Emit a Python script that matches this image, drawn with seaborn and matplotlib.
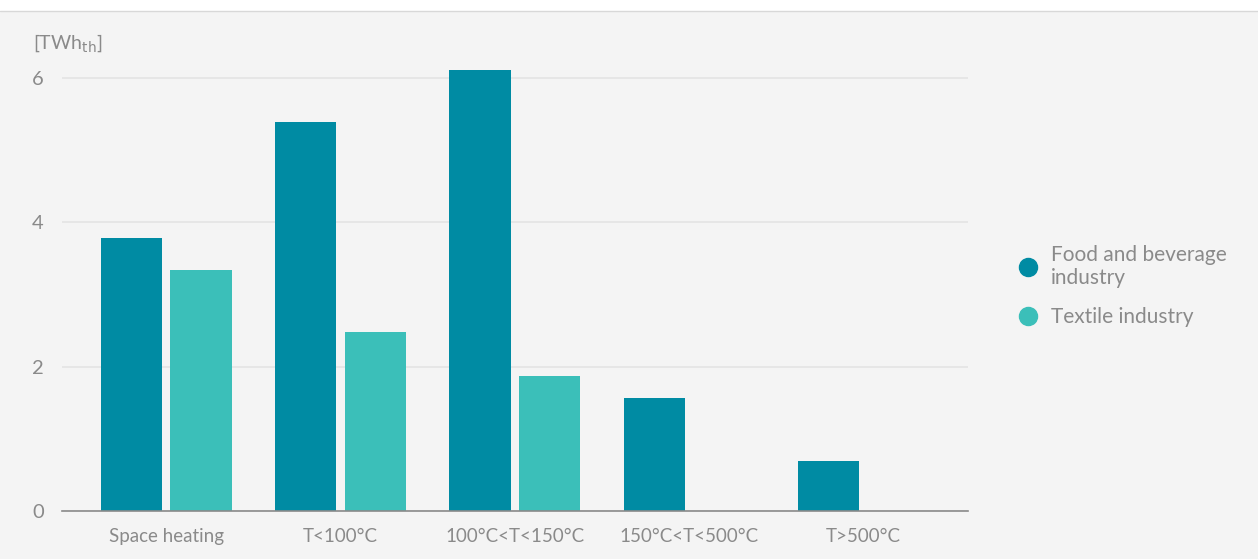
import matplotlib.pyplot as plt
import matplotlib.patches as mpatches
from matplotlib.lines import Line2D
import numpy as np
import pandas as pd
import seaborn as sns

# data
categorias = ['Space heating', 'T<100°C', '100°C<T<150°C', '150°C<T<500°C', 'T>500°C']
food = [3.78, 5.39, 6.10, 1.57, 0.69]
textile = [3.34, 2.48, 1.87, 0.0, 0.0]
series = ['Food and beverage\nindustry', 'Textile industry']
cores = ['#008ba3', '#3bbfb9']

df = pd.DataFrame({
    'cat': categorias * 2,
    'valor': food + textile,
    'serie': [series[0]] * 5 + [series[1]] * 5,
})

sns.set_theme(style='white')
plt.rcParams['font.family'] = ['Lato', 'DejaVu Sans']
cinza = '#8a8a8a'

fig = plt.figure(figsize=(12.58, 5.59), dpi=100, facecolor='#f4f4f4')
# faixa branca no topo
fig.patches.append(mpatches.Rectangle((0, 1 - 11 / 559), 1, 11 / 559, transform=fig.transFigure,
                                      facecolor='white', edgecolor='none', zorder=0))
fig.lines.append(Line2D([0, 1], [1 - 11 / 559] * 2, transform=fig.transFigure, color='#d8d8d8', lw=1))

ax = fig.add_axes([0.0493, 0.0859, 0.7202, 0.8139])
ax.set_facecolor('#f4f4f4')
sns.barplot(data=df, x='cat', y='valor', hue='serie', palette=cores, width=0.8, gap=0.12,
            saturation=1, linewidth=0, ax=ax, legend=False, zorder=3)

ax.set_xlim(-0.597, 4.60)
ax.set_ylim(0, 6.3)
ax.set_yticks([0, 2, 4, 6])
ax.yaxis.grid(True, color='#e4e4e4', lw=1.2, zorder=0)
ax.xaxis.grid(False)
for s in ['top', 'right', 'left']:
    ax.spines[s].set_visible(False)
ax.spines['bottom'].set_color('#8a8a8a')
ax.spines['bottom'].set_linewidth(1.2)
ax.spines['bottom'].set_zorder(4)
ax.tick_params(axis='both', length=0, labelcolor=cinza)
ax.tick_params(axis='y', pad=13, labelsize=14.5)
ax.tick_params(axis='x', pad=12, labelsize=13.5)
ax.set_xlabel('')
ax.set_ylabel('')

fig.text(33 / 1258, 1 - 43 / 559, r'[TWh$_{\mathrm{th}}$]', fontsize=14, color=cinza, va='center', ha='left')

handles = [Line2D([], [], marker='o', ls='', markersize=13, color=c) for c in cores]
fig.legend(handles, series, loc='center left', bbox_to_anchor=(997 / 1258, 1 - 286 / 559),
           frameon=False, fontsize=15, labelcolor=cinza, handletextpad=0.5, labelspacing=0.95,
           handlelength=1.2)

plt.savefig('out.png', dpi=100, facecolor=fig.get_facecolor())
